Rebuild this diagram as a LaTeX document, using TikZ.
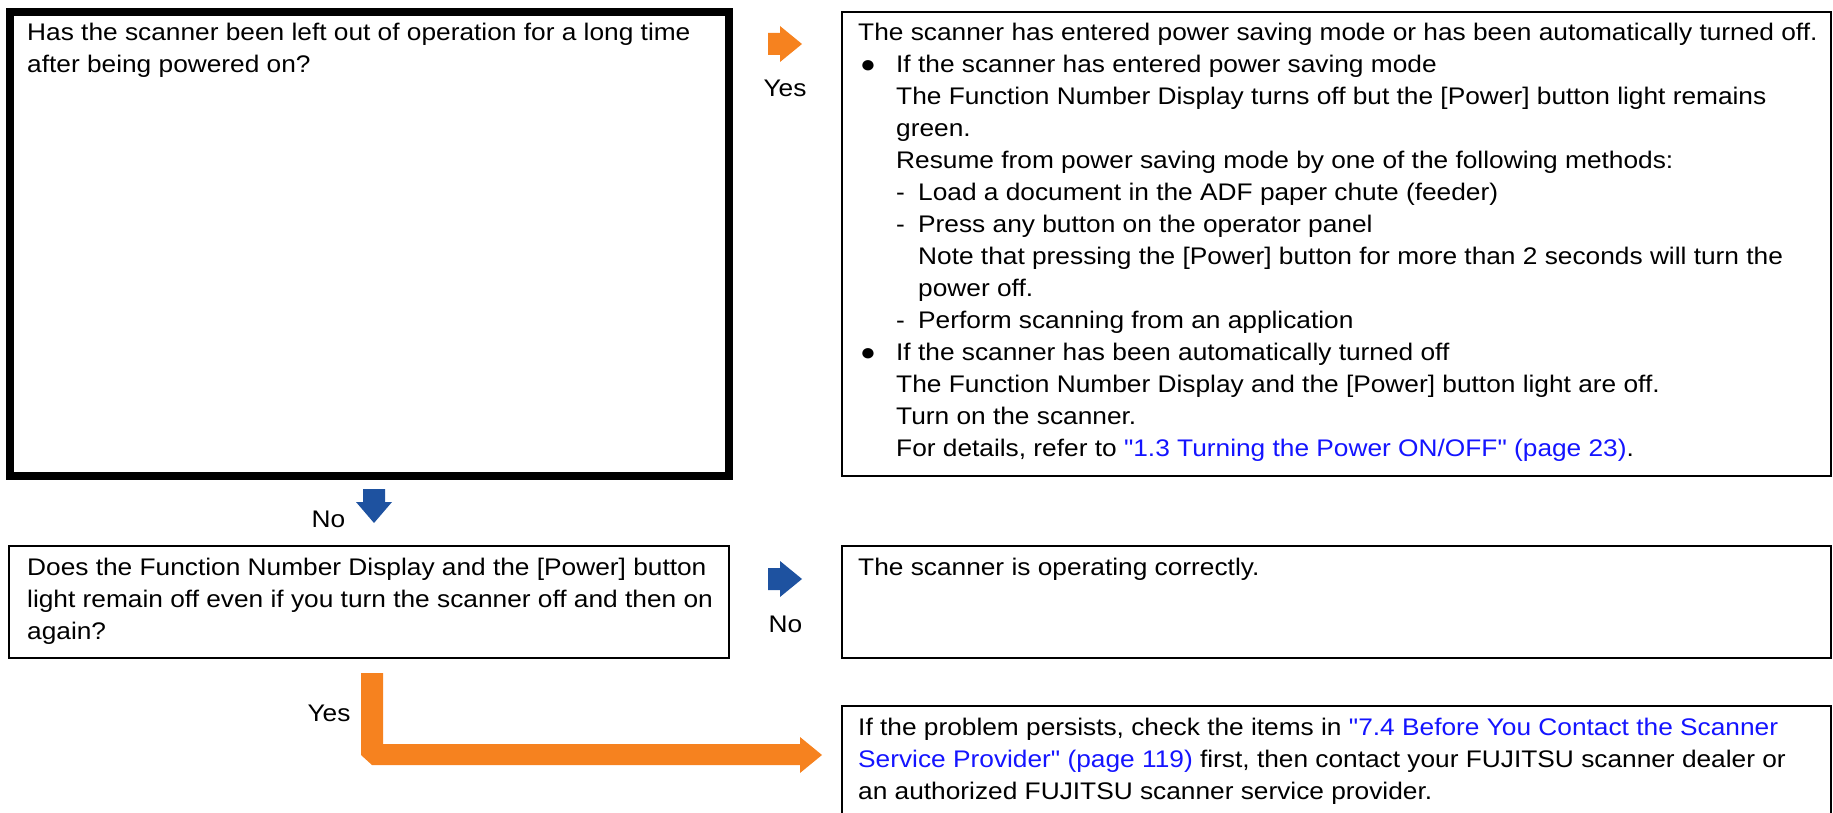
\documentclass[tikz,border=0pt]{standalone}
\usepackage{fontspec}
\setmainfont[FakeStretch=1.095]{Liberation Sans}
\font\qf="Liberation Sans:extend=1.095" at 24pt
\definecolor{fjorange}{RGB}{246,130,31}
\definecolor{fjblue}{RGB}{30,82,160}
\definecolor{linkblue}{RGB}{20,20,255}
\newcommand{\bul}{\makebox[38pt][l]{\hspace{2pt}●}}
\newcommand{\dsh}{\makebox[22pt][l]{-}}
\newcommand{\ind}{\hspace*{38pt}}
\newcommand{\indd}{\hspace*{60pt}}
\newcommand{\qq}{{\qf\char34}}
\begin{document}
\begin{tikzpicture}[x=1pt,y=-1pt,
  qbox/.style={draw=black, line width=2pt, inner sep=0pt, outer sep=0pt},
  thickbox/.style={qbox, line width=8pt},
  txt/.style={anchor=north west, inner sep=0pt, align=left, font=\fontsize{24}{32}\selectfont},
  lbl/.style={anchor=base, inner sep=0pt, font=\fontsize{24}{32}\selectfont},
  orangearrow/.style={fill=fjorange, draw=none},
  bluearrow/.style={fill=fjblue, draw=none}]
\useasboundingbox (0,0) rectangle (1833,813);

% boxes
\node[thickbox, minimum width=719pt, minimum height=464pt] (q1) at (369.5,244) {};
\node[qbox, minimum width=989pt, minimum height=464pt] (r1) at (1336.5,244) {};
\node[qbox, minimum width=720pt, minimum height=112pt] (q2) at (369,602) {};
\node[qbox, minimum width=989pt, minimum height=112pt] (r2) at (1336.5,602) {};
\node[qbox, minimum width=989pt, minimum height=130pt] (r3) at (1336.5,771) {};

% texts
\node[txt] (q1t) at (27,17.6) {\strut Has the scanner been left out of operation for a long time\\after being powered on?};
\node[txt] (r1t) at (858,17.6) {\strut The scanner has entered power saving mode or has been automatically turned off.\\
\bul If the scanner has entered power saving mode\\
\ind The Function Number Display turns off but the [Power] button light remains\\
\ind green.\\
\ind Resume from power saving mode by one of the following methods:\\
\ind\dsh Load a document in the ADF paper chute (feeder)\\
\ind\dsh Press any button on the operator panel\\
\indd Note that pressing the [Power] button for more than 2 seconds will turn the\\
\indd power off.\\
\ind\dsh Perform scanning from an application\\
\bul If the scanner has been automatically turned off\\
\ind The Function Number Display and the [Power] button light are off.\\
\ind Turn on the scanner.\\
\ind For details, refer to \textcolor{linkblue}{\qq1.3 Turning the Power ON/OFF\qq{} (page 23)}.};
\node[txt] (q2t) at (27,552.6) {\strut Does the Function Number Display and the [Power] button\\light remain off even if you turn the scanner off and then on\\again?};
\node[txt] (r2t) at (858,552.6) {\strut The scanner is operating correctly.};
\node[txt] (r3t) at (858,712.6) {\strut If the problem persists, check the items in \textcolor{linkblue}{\qq7.4 Before You Contact the Scanner}\\
\textcolor{linkblue}{Service Provider\qq{} (page 119)} first, then contact your FUJITSU scanner dealer or\\
an authorized FUJITSU scanner service provider.};

% block arrows
\fill[orangearrow] (768,33) -- (780,33) -- (780,26) -- (802,44) -- (780,62) -- (780,55) -- (768,55) -- cycle;
\node[lbl] (yes1) at (785,97) {Yes};
\fill[bluearrow] (363,489) -- (385,489) -- (385,502) -- (392,502) -- (374,523) -- (356,502) -- (363,502) -- cycle;
\node[lbl] (no1) at (328.5,527) {No};
\fill[bluearrow] (768,568) -- (780,568) -- (780,561) -- (802,579) -- (780,597) -- (780,590) -- (768,590) -- cycle;
\node[lbl] (no2) at (785.5,632) {No};
\fill[orangearrow] (361,673) -- (383,673) -- (383,744) -- (800,744) -- (800,737) -- (822,755) -- (800,773) -- (800,765) -- (372,765) -- (361,755) -- cycle;
\node[lbl] (yes2) at (329,721) {Yes};
\end{tikzpicture}
\end{document}
